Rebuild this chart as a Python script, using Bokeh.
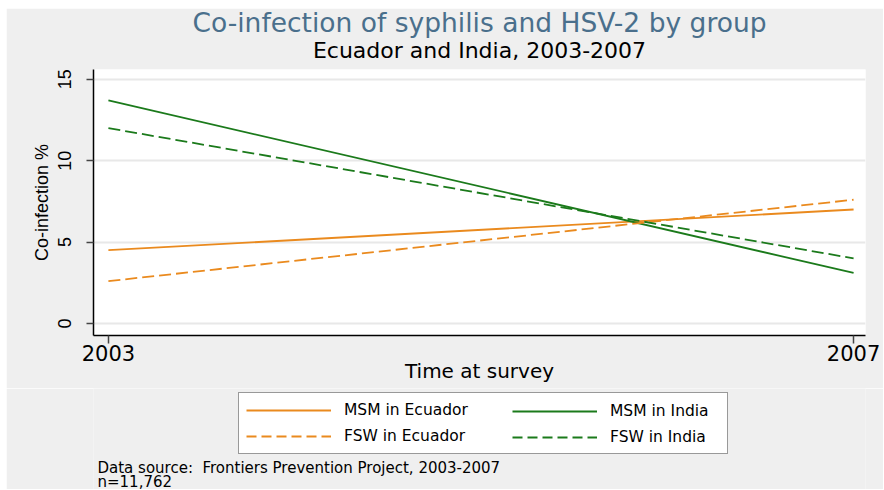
from bokeh.plotting import figure
from bokeh.models import Range1d, FixedTicker, Legend, LegendItem, Title, Label
from bokeh.layouts import column
from bokeh.embed import file_html
from bokeh.resources import INLINE

years = [2003, 2007]
msm_ecuador = [4.5, 7.0]
fsw_ecuador = [2.6, 7.6]
msm_india = [13.7, 3.1]
fsw_india = [12.0, 4.0]
y_ticks = [0, 5, 10, 15]
x_ticks = [2003, 2007]

ORANGE = "#ea8a1e"
GREEN = "#1b7a1b"
BG = "#efefef"
WIDE = "DejaVu Sans"
NARROW = "Liberation Sans"
DASH = "12 5"
W = 877
FL, FR = 87, 18  # frame borders left / right

p = figure(width=W, height=380, output_backend="svg", toolbar_location=None,
           x_range=Range1d(2002.92, 2007.064), y_range=Range1d(-0.74, 15.6),
           min_border_left=FL, min_border_right=FR, min_border_top=61, min_border_bottom=53,
           title=None)
p.border_fill_color = BG
p.background_fill_color = "white"
p.outline_line_color = None

r1 = p.line(years, msm_ecuador, line_color=ORANGE, line_width=1.8)
r2 = p.line(years, msm_india, line_color=GREEN, line_width=1.8)
r3 = p.line(years, fsw_ecuador, line_color=ORANGE, line_width=1.8, line_dash=DASH)
r4 = p.line(years, fsw_india, line_color=GREEN, line_width=1.8, line_dash=DASH)

p.xgrid.visible = False
p.ygrid.ticker = FixedTicker(ticks=y_ticks)
p.ygrid.grid_line_color = "#e8e8e8"
p.ygrid.grid_line_width = 2

p.yaxis.ticker = FixedTicker(ticks=y_ticks)
p.xaxis.ticker = FixedTicker(ticks=x_ticks)
for ax in (p.xaxis[0], p.yaxis[0]):
    ax.minor_tick_line_color = None
    ax.axis_line_color = "black"
    ax.axis_line_width = 1.5
    ax.major_tick_line_color = "#444444"
    ax.major_tick_line_width = 1.5
    ax.major_tick_in = 0
    ax.major_label_text_color = "black"
    ax.axis_label_text_font_style = "normal"
    ax.axis_label_text_color = "black"

p.yaxis.major_tick_out = 7
p.yaxis.major_label_text_font = NARROW
p.yaxis.major_label_text_font_size = "18px"
p.yaxis.major_label_orientation = "vertical"
p.yaxis.major_label_standoff = 15
p.yaxis.axis_label = "Co-infection %"
p.yaxis.axis_label_text_font = NARROW
p.yaxis.axis_label_text_font_size = "18px"
p.yaxis.axis_label_standoff = 4

p.xaxis.major_tick_out = 8
p.xaxis.major_label_text_font = WIDE
p.xaxis.major_label_text_font_size = "21px"
p.xaxis.major_label_standoff = 1
p.xaxis.axis_label = "Time at survey"
p.xaxis.axis_label_text_font = WIDE
p.xaxis.axis_label_text_font_size = "20px"
p.xaxis.axis_label_standoff = -5

sub = Title(text="Ecuador and India, 2003-2007", text_font=WIDE, text_font_size="22px",
            text_font_style="normal", text_color="black", align="center", standoff=13)
main = Title(text="Co-infection of syphilis and HSV-2 by group", text_font=WIDE,
             text_font_size="26.5px", text_font_style="normal", text_color="#4a6f8c",
             align="center", standoff=-16)
p.add_layout(sub, "above")
p.add_layout(main, "above")

# lower panel: legend and notes (data units = pixels here)
QH = 101
q = figure(width=W, height=QH, output_backend="svg", toolbar_location=None,
           x_range=Range1d(0, W - FL - FR), y_range=Range1d(0, QH),
           min_border_left=FL, min_border_right=FR, min_border_top=0, min_border_bottom=0,
           x_axis_location=None, y_axis_location=None, title=None)
q.border_fill_color = BG
q.background_fill_color = BG
q.outline_line_color = None
q.grid.visible = False

# legend proxies: same series, outside this panel's visible range
l1 = q.line(years, msm_ecuador, line_color=ORANGE, line_width=1.8)
l3 = q.line(years, fsw_ecuador, line_color=ORANGE, line_width=1.8, line_dash="10 5")
l2 = q.line(years, msm_india, line_color=GREEN, line_width=1.8)
l4 = q.line(years, fsw_india, line_color=GREEN, line_width=1.8, line_dash="10 5")


def make_legend(items, loc, label_width, boxed):
    lg = Legend(items=items, location=loc)
    lg.label_text_font = WIDE
    lg.label_text_font_size = "15.5px"
    lg.label_text_color = "black"
    lg.glyph_width = 85
    lg.glyph_height = 20
    lg.label_height = 20
    lg.label_width = label_width
    lg.label_standoff = 13
    lg.spacing = 6
    lg.padding = 7
    lg.margin = 0
    if boxed:
        lg.border_line_color = "#333333"
        lg.border_line_width = 1.2
        lg.background_fill_color = "white"
        lg.background_fill_alpha = 1
    else:
        lg.border_line_color = "white"
        lg.border_line_alpha = 0
        lg.background_fill_alpha = 0
    return lg


leg_a = make_legend([LegendItem(label="MSM in Ecuador", renderers=[l1]),
                     LegendItem(label="FSW in Ecuador", renderers=[l3])], (145, 35), 376, True)
leg_b = make_legend([LegendItem(label="MSM in India", renderers=[l2]),
                     LegendItem(label="FSW in India", renderers=[l4])], (412, 35), 100, False)
q.add_layout(leg_a, "center")
q.add_layout(leg_b, "center")

notes = ["Data source:\u00a0 Frontiers Prevention Project, 2003-2007", "n=11,762"]
for i, t in enumerate(notes):
    q.add_layout(Label(x=4, y=22 - 14 * i, text=t, text_font=WIDE, text_font_size="15px",
                       text_color="black", text_baseline="middle", text_align="left"))

layout = column(p, q, spacing=0, margin=(8, 0, 0, 6))
open("out.html", "w").write(file_html(layout, INLINE))
